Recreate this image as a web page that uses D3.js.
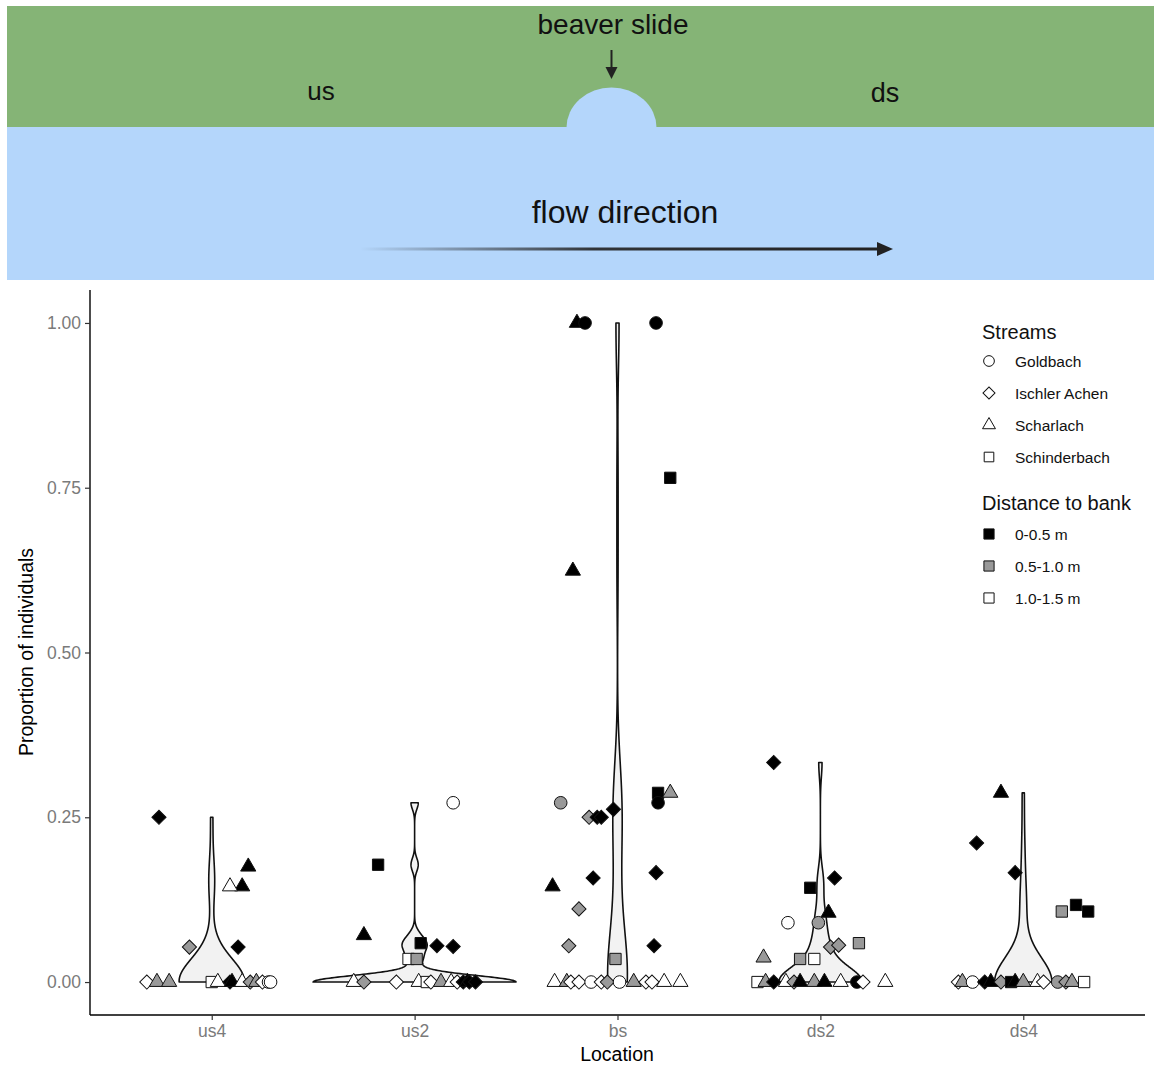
<!DOCTYPE html>
<html>
<head>
<meta charset="utf-8">
<script src="https://cdn.jsdelivr.net/npm/d3@7"></script>
<style>
  body { margin: 0; background: #fff; }
  svg text { font-family: "Liberation Sans", Arial, sans-serif; }
</style>
</head>
<body>
<div id="chart"></div>
<script>
// categories
const locations = ["us4", "us2", "bs", "ds2", "ds4"];
const streams = ["Goldbach", "Ischler Achen", "Scharlach", "Schinderbach"];
const streamCodes = ["G", "I", "C", "S"];
const distances = ["0-0.5 m", "0.5-1.0 m", "1.0-1.5 m"];
const distanceCodes = ["near", "mid", "far"];
const yTicks = [0, 0.25, 0.5, 0.75, 1];

// observations per location: [stream, distance, proportion, jitter (in category units)]
const us4Obs = [
  ["I", "near", 0.25, -0.26], ["I", "mid", 0.053, -0.11], ["I", "near", 0.053, 0.13],
  ["C", "near", 0.175, 0.18], ["C", "near", 0.145, 0.15], ["C", "far", 0.145, 0.09],
  ["I", "far", 0, -0.32], ["C", "mid", 0, -0.27], ["C", "mid", 0, -0.21],
  ["S", "far", 0, 0.00], ["C", "far", 0, 0.03], ["I", "near", 0, 0.09],
  ["C", "near", 0, 0.10], ["C", "far", 0, 0.15], ["I", "mid", 0, 0.19],
  ["C", "mid", 0, 0.22], ["I", "far", 0, 0.25], ["G", "far", 0, 0.28], ["G", "far", 0, 0.29]
];
const us2Obs = [
  ["G", "far", 0.272, 0.19], ["S", "near", 0.178, -0.18], ["C", "near", 0.071, -0.25],
  ["S", "near", 0.059, 0.03], ["I", "near", 0.055, 0.11], ["I", "near", 0.054, 0.19],
  ["S", "far", 0.035, -0.03], ["S", "mid", 0.035, 0.01],
  ["C", "far", 0, -0.30], ["I", "mid", 0, -0.25], ["I", "far", 0, -0.09],
  ["C", "far", 0, 0.02], ["S", "far", 0, 0.06], ["I", "far", 0, 0.08],
  ["C", "mid", 0, 0.13], ["C", "far", 0, 0.18], ["I", "far", 0, 0.21],
  ["I", "near", 0, 0.24], ["C", "near", 0, 0.26], ["I", "near", 0, 0.27], ["I", "near", 0, 0.30]
];
const bsObs = [
  ["C", "near", 1.0, -0.20], ["G", "near", 1.0, -0.16], ["G", "near", 1.0, 0.19],
  ["S", "near", 0.765, 0.26], ["C", "near", 0.624, -0.22],
  ["G", "mid", 0.272, -0.28], ["I", "mid", 0.25, -0.14], ["I", "near", 0.25, -0.10],
  ["I", "near", 0.25, -0.08], ["I", "near", 0.262, -0.02], ["S", "near", 0.287, 0.20],
  ["G", "near", 0.272, 0.20], ["C", "mid", 0.287, 0.26], ["I", "near", 0.158, -0.12],
  ["C", "near", 0.145, -0.32], ["I", "near", 0.166, 0.19], ["I", "mid", 0.111, -0.19],
  ["I", "mid", 0.055, -0.24], ["I", "near", 0.055, 0.18], ["S", "mid", 0.035, -0.01],
  ["C", "far", 0, -0.31], ["C", "mid", 0, -0.25], ["I", "far", 0, -0.23],
  ["I", "far", 0, -0.19], ["G", "far", 0, -0.13], ["I", "far", 0, -0.08],
  ["I", "mid", 0, -0.05], ["G", "far", 0, 0.01], ["C", "mid", 0, 0.08],
  ["I", "far", 0, 0.14], ["I", "far", 0, 0.17], ["C", "far", 0, 0.23], ["C", "far", 0, 0.31]
];
const ds2Obs = [
  ["I", "near", 0.333, -0.23], ["I", "near", 0.158, 0.07], ["S", "near", 0.143, -0.05],
  ["C", "near", 0.105, 0.04], ["G", "far", 0.09, -0.16], ["G", "mid", 0.09, -0.01],
  ["I", "mid", 0.053, 0.05], ["I", "mid", 0.056, 0.09], ["S", "mid", 0.059, 0.19],
  ["C", "mid", 0.037, -0.28], ["S", "mid", 0.035, -0.10], ["S", "far", 0.035, -0.03],
  ["S", "far", 0, -0.31], ["C", "mid", 0, -0.27], ["I", "near", 0, -0.23],
  ["C", "far", 0, -0.17], ["I", "mid", 0, -0.13], ["C", "near", 0, -0.10],
  ["C", "mid", 0, -0.03], ["C", "near", 0, 0.02], ["C", "far", 0, 0.10],
  ["G", "near", 0, 0.18], ["I", "far", 0, 0.21], ["C", "far", 0, 0.32]
];
const ds4Obs = [
  ["C", "near", 0.287, -0.11], ["I", "near", 0.211, -0.23], ["I", "near", 0.166, -0.04],
  ["S", "mid", 0.107, 0.19], ["S", "near", 0.117, 0.26], ["S", "near", 0.107, 0.32],
  ["I", "far", 0, -0.32], ["C", "mid", 0, -0.30], ["G", "far", 0, -0.25],
  ["I", "near", 0, -0.19], ["C", "near", 0, -0.16], ["I", "mid", 0, -0.11],
  ["S", "near", 0, -0.06], ["C", "near", 0, -0.04], ["C", "mid", 0, 0.00],
  ["C", "far", 0, 0.07], ["I", "far", 0, 0.10], ["G", "mid", 0, 0.17],
  ["I", "mid", 0, 0.21], ["C", "mid", 0, 0.24], ["S", "far", 0, 0.30]
];
const observations = [us4Obs, us2Obs, bsObs, ds2Obs, ds4Obs];

// samples per location (zeros not visible sit under the plotted ones)
const sampleSizes = [36, 36, 36, 36, 36];
// kernel bandwidth used for each violin
const bandwidths = [0.034, 0.01, 0.07, 0.022, 0.038];

const W = 1154, H = 1066;
const margin = { left: 90, right: 1145, top: 290, bottom: 1015 };
const fillColor = { near: "#000000", mid: "#999999", far: "#ffffff" };

const svg = d3.select("#chart").append("svg")
  .attr("width", W).attr("height", H)
  .attr("viewBox", [0, 0, W, H]);

// ---------- banner ----------
const banner = svg.append("g");
const defs = svg.append("defs");
const grad = defs.append("linearGradient").attr("id", "flowGrad")
  .attr("gradientUnits", "userSpaceOnUse")
  .attr("x1", 360).attr("x2", 880).attr("y1", 0).attr("y2", 0);
grad.append("stop").attr("offset", 0).attr("stop-color", "#222").attr("stop-opacity", 0);
grad.append("stop").attr("offset", 0.45).attr("stop-color", "#222").attr("stop-opacity", 0.9);
grad.append("stop").attr("offset", 1).attr("stop-color", "#222").attr("stop-opacity", 1);

banner.append("rect").attr("x", 7).attr("y", 6).attr("width", W - 7).attr("height", 121).attr("fill", "#85b476");
banner.append("rect").attr("x", 7).attr("y", 127).attr("width", W - 7).attr("height", 153).attr("fill", "#b4d6fb");
banner.append("path")
  .attr("d", "M566.5,127.5 A45,40 0 0 1 656.5,127.5 Z")
  .attr("fill", "#b4d6fb");
banner.append("line").attr("x1", 611.5).attr("x2", 611.5).attr("y1", 50).attr("y2", 69)
  .attr("stroke", "#222").attr("stroke-width", 2);
banner.append("path").attr("d", "M605.5,67 L617.5,67 L611.5,79 Z").attr("fill", "#222");
banner.append("line").attr("x1", 360).attr("x2", 880).attr("y1", 249).attr("y2", 249)
  .attr("stroke", "url(#flowGrad)").attr("stroke-width", 3);
banner.append("path").attr("d", "M877,242 L893,249 L877,256 Z").attr("fill", "#222");

const bannerText = [
  { t: "beaver slide", x: 613, y: 34, s: 28 },
  { t: "us", x: 321, y: 100, s: 26 },
  { t: "ds", x: 885, y: 102, s: 27 },
  { t: "flow direction", x: 625, y: 223, s: 32 }
];
banner.selectAll("text.lbl").data(bannerText).join("text")
  .attr("x", d => d.x).attr("y", d => d.y)
  .attr("text-anchor", "middle").attr("font-size", d => d.s)
  .attr("fill", "#111").text(d => d.t);

// ---------- scales ----------
const x = d3.scalePoint().domain(locations).range([margin.left, margin.right]).padding(0.6);
const y = d3.scaleLinear().domain([-0.05, 1.05]).range([margin.bottom, margin.top]);
const step = x.step();

// ---------- violins ----------
function kde(values, bw, lo, hi, n) {
  const out = [];
  const k = 1 / (Math.sqrt(2 * Math.PI) * bw * values.length);
  for (let i = 0; i < n; i++) {
    const v = lo + (hi - lo) * i / (n - 1);
    let s = 0;
    for (const xv of values) {
      const z = (v - xv) / bw;
      s += Math.exp(-0.5 * z * z);
    }
    out.push([v, s * k]);
  }
  return out;
}

const violins = locations.map((loc, i) => {
  const vals = observations[i].map(d => d[2]);
  const hidden = sampleSizes[i] - vals.length;
  for (let j = 0; j < hidden; j++) vals.push(0);
  return { loc, dens: kde(vals, bandwidths[i], d3.min(vals), d3.max(vals), 512) };
});
const maxDens = d3.max(violins, v => d3.max(v.dens, d => d[1]));

const plot = svg.append("g");
violins.forEach(v => {
  const cx = x(v.loc);
  const area = d3.area()
    .x0(d => cx - d[1] / maxDens * step / 2)
    .x1(d => cx + d[1] / maxDens * step / 2)
    .y(d => y(d[0]));
  plot.append("path")
    .attr("d", area(v.dens))
    .attr("fill", "#f2f2f2")
    .attr("stroke", "#111")
    .attr("stroke-width", 1.6)
    .attr("stroke-linejoin", "round");
});

// ---------- points ----------
function shape(code, scale) {
  const k = scale || 1;
  if (code === "G") return { d: d3.symbol(d3.symbolCircle, 125 * k * k)(), rot: 0 };
  if (code === "I") return { d: d3.symbol(d3.symbolSquare, 100 * k * k)(), rot: 45 };
  if (code === "C") return { d: d3.symbol(d3.symbolTriangle, 100 * k * k)(), rot: 0 };
  return { d: d3.symbol(d3.symbolSquare, 128 * k * k)(), rot: 0 };
}

locations.forEach((loc, i) => {
  plot.selectAll(null).data(observations[i]).join("path")
    .attr("d", d => shape(d[0]).d)
    .attr("transform", d => `translate(${x(loc) + d[3] * step},${y(d[2])}) rotate(${shape(d[0]).rot})`)
    .attr("fill", d => fillColor[d[1]])
    .attr("stroke", "#111")
    .attr("stroke-width", 1);
});

// ---------- axes ----------
const yAxis = svg.append("g").attr("transform", `translate(${margin.left},0)`)
  .call(d3.axisLeft(y).tickValues(yTicks).tickFormat(d3.format(".2f")).tickSize(5).tickSizeOuter(0));
const xAxis = svg.append("g").attr("transform", `translate(0,${margin.bottom})`)
  .call(d3.axisBottom(x).tickSize(5).tickSizeOuter(0));
[yAxis, xAxis].forEach(a => {
  a.select(".domain").attr("stroke", "#000").attr("stroke-width", 1.4);
  a.selectAll(".tick line").attr("stroke", "#333").attr("stroke-width", 1.2);
  a.selectAll(".tick text").attr("fill", "#7a7a7a").attr("font-size", 17.5)
    .attr("font-family", "'Liberation Sans', Arial, sans-serif");
});
yAxis.select(".domain").attr("d", `M0,${margin.top}V${margin.bottom}`);
xAxis.select(".domain").attr("d", `M${margin.left},0H${margin.right}`);
yAxis.selectAll(".tick text").attr("x", -9);
xAxis.selectAll(".tick text").attr("y", 10);

svg.append("text").attr("transform", "translate(33,652) rotate(-90)")
  .attr("text-anchor", "middle").attr("font-size", 19.5).attr("fill", "#000")
  .text("Proportion of individuals");
svg.append("text").attr("x", 617).attr("y", 1061)
  .attr("text-anchor", "middle").attr("font-size", 19.5).attr("fill", "#000")
  .text("Location");

// ---------- legend ----------
const legend = svg.append("g");
legend.append("text").attr("x", 982).attr("y", 339).attr("font-size", 20).attr("fill", "#111").text("Streams");
streams.forEach((s, i) => {
  const cy = 361 + i * 32;
  const sh = shape(streamCodes[i], 0.85);
  legend.append("path").attr("d", sh.d)
    .attr("transform", `translate(989,${cy}) rotate(${sh.rot})`)
    .attr("fill", "#fff").attr("stroke", "#111").attr("stroke-width", 1);
  legend.append("text").attr("x", 1015).attr("y", cy + 5.5).attr("font-size", 15.5).attr("fill", "#111").text(s);
});
legend.append("text").attr("x", 982).attr("y", 510).attr("font-size", 20).attr("fill", "#111").text("Distance to bank");
distances.forEach((s, i) => {
  const cy = 534 + i * 32;
  legend.append("path").attr("d", shape("S", 0.9).d)
    .attr("transform", `translate(989,${cy})`)
    .attr("fill", fillColor[distanceCodes[i]]).attr("stroke", "#111").attr("stroke-width", 1);
  legend.append("text").attr("x", 1015).attr("y", cy + 5.5).attr("font-size", 15.5).attr("fill", "#111").text(s);
});
</script>
</body>
</html>
